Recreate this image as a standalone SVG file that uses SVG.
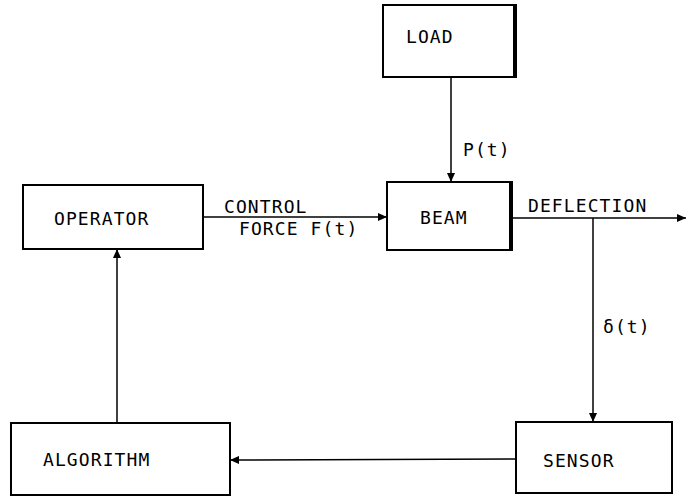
<svg xmlns="http://www.w3.org/2000/svg" width="694" height="497" viewBox="0 0 694 497">
<defs>
<style>
.box{fill:#fff;stroke:#000;stroke-width:2}
.sh{stroke:#000;stroke-width:4}
.lbl{font-family:"DejaVu Sans Mono","Liberation Mono",monospace;font-size:18px;letter-spacing:1.1px;fill:#000}
.conn{stroke:#000;stroke-width:1.5;fill:none}
</style>
<marker id="arr" markerUnits="userSpaceOnUse" markerWidth="10" markerHeight="8" refX="9" refY="4" orient="auto">
<path d="M0,0 L9,4 L0,8 Z" fill="#000"/>
</marker>
</defs>
<g id="connectors">
<line class="conn" x1="451" y1="77" x2="451" y2="182" marker-end="url(#arr)"/>
<line class="conn" x1="203" y1="217" x2="387" y2="217" marker-end="url(#arr)"/>
<line class="conn" x1="512" y1="218" x2="686" y2="218" marker-end="url(#arr)"/>
<line class="conn" x1="593" y1="218" x2="593" y2="422" marker-end="url(#arr)"/>
<line class="conn" x1="516" y1="459" x2="230" y2="460" marker-end="url(#arr)"/>
<line class="conn" x1="117" y1="423" x2="117" y2="249" marker-end="url(#arr)"/>
<text class="lbl" x="463" y="156">P(t)</text>
<text class="lbl" x="224" y="213">CONTROL</text>
<text class="lbl" x="239" y="235">FORCE F(t)</text>
<text class="lbl" x="528" y="212">DEFLECTION</text>
<text class="lbl" x="603" y="333">δ(t)</text>
</g>
<g id="load">
<rect class="box" x="383" y="5" width="133" height="72"/>
<line class="sh" x1="515" y1="5" x2="515" y2="77"/>
<text class="lbl" x="406" y="43">LOAD</text>
</g>
<g id="beam">
<rect class="box" x="387" y="182" width="125" height="68"/>
<line class="sh" x1="511" y1="182" x2="511" y2="250"/>
<text class="lbl" x="420" y="224">BEAM</text>
</g>
<g id="operator">
<rect class="box" x="23" y="185" width="180" height="64"/>
<text class="lbl" x="54" y="225">OPERATOR</text>
</g>
<g id="algorithm">
<rect class="box" x="11" y="423" width="219" height="72"/>
<text class="lbl" x="43" y="466">ALGORITHM</text>
</g>
<g id="sensor">
<rect class="box" x="516" y="422" width="156" height="71"/>
<text class="lbl" x="543" y="467">SENSOR</text>
</g>
</svg>
